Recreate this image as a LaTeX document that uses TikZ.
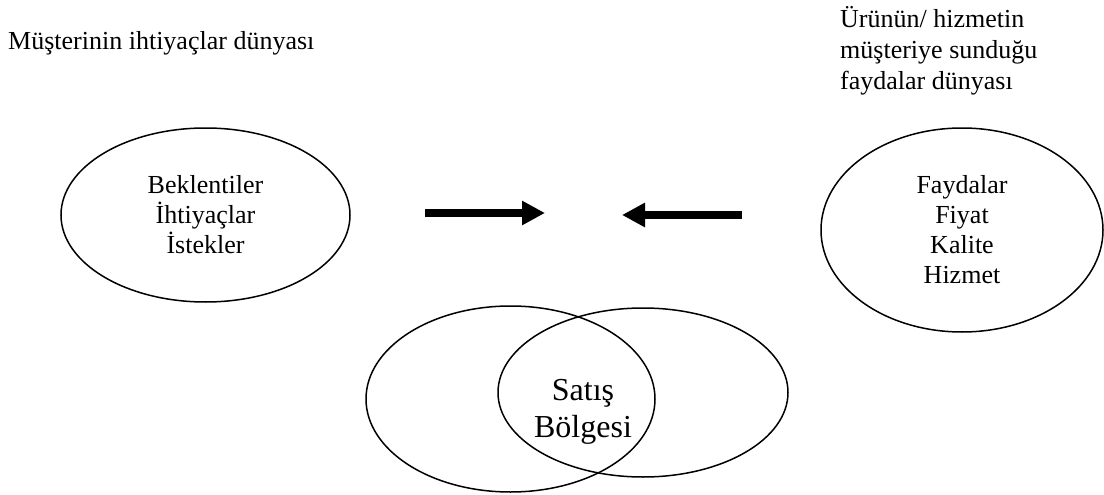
\documentclass[tikz,border=0pt]{standalone}
\usepackage{fontspec}
\setmainfont{Liberation Serif}
\usetikzlibrary{shapes.geometric,arrows.meta}
\begin{document}
\begin{tikzpicture}[x=1pt,y=-1pt,
  lbl/.style={font=\fontsize{26}{30}\selectfont, inner sep=0pt, anchor=base west},
  world/.style={draw, ellipse, line width=1.5pt, inner sep=0pt, align=center,
    font=\fontsize{26}{30}\selectfont},
  venn/.style={draw, ellipse, line width=1.5pt, inner sep=0pt},
  bigarrow/.style={line width=8pt, -{Triangle[length=23pt,width=23pt]}}]
\useasboundingbox (0,0) rectangle (1104,495);

\node[lbl] (t1) at (8,50) {Müşterinin ihtiyaçlar dünyası};
\node[lbl] (t2a) at (840,28) {Ürünün/ hizmetin};
\node[lbl] (t2b) at (840,59) {müşteriye sunduğu};
\node[lbl] (t2c) at (840,89) {faydalar dünyası};

\node[world, minimum width=289pt, minimum height=174pt] (needs) at (205.5,215)
  {Beklentiler\\İhtiyaçlar\\İstekler};
\node[world, minimum width=282pt, minimum height=204pt] (benefits) at (962,230)
  {Faydalar\\Fiyat\\Kalite\\Hizmet};

\coordinate (a1s) at (425,213);
\coordinate (a1e) at (545,213);
\coordinate (a2s) at (742,215);
\coordinate (a2e) at (622,215);
\draw[bigarrow] (a1s) -- (a1e);
\draw[bigarrow] (a2s) -- (a2e);

\node[venn, minimum width=289pt, minimum height=186pt] (vl) at (510.5,399) {};
\node[venn, minimum width=290pt, minimum height=169pt] (vr) at (643,392.5) {};
\node[font=\fontsize{32}{37}\selectfont, align=center, inner sep=0pt] (sale) at (583,412)
  {Satış\\Bölgesi};
\end{tikzpicture}
\end{document}
